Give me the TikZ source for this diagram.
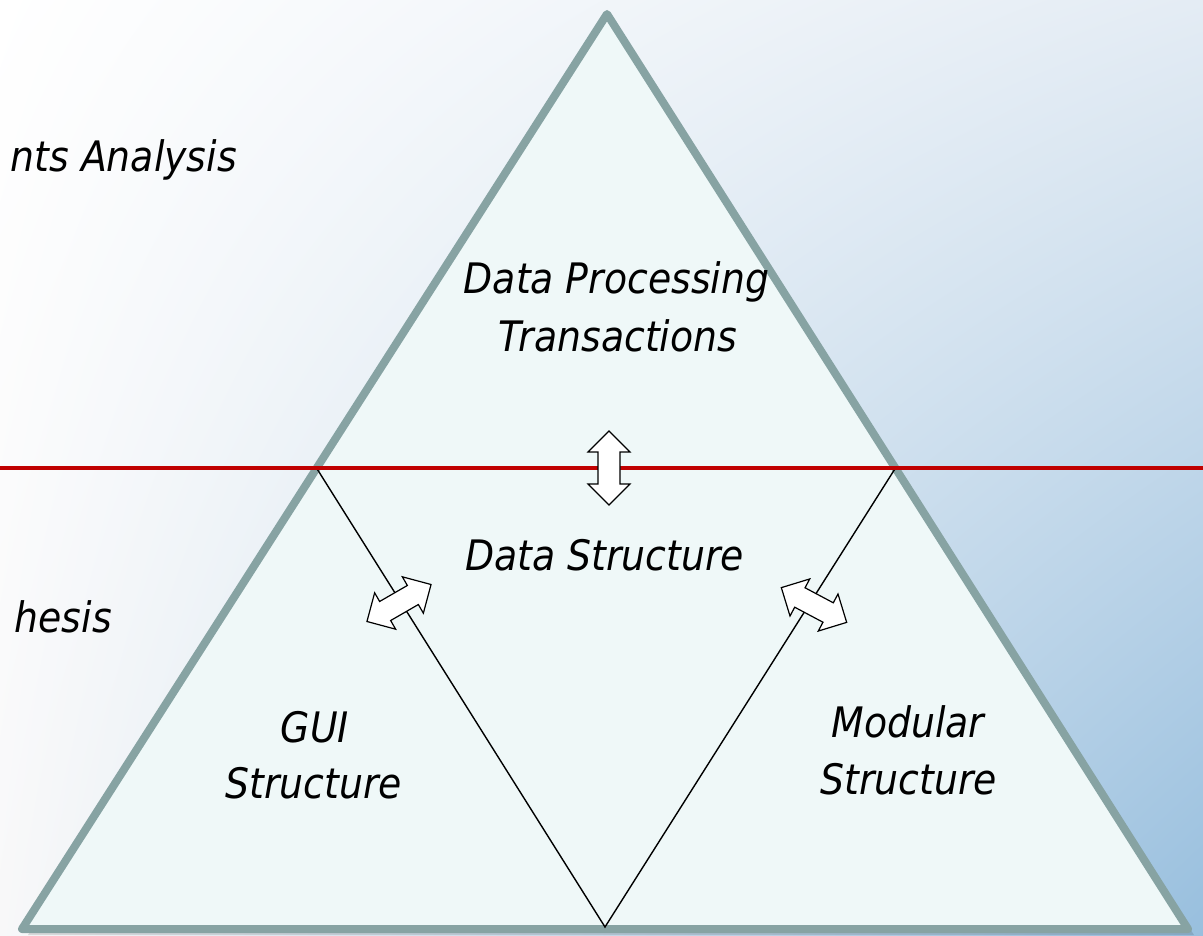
\documentclass[tikz,border=0pt]{standalone}
\usepackage{fontspec}
\usetikzlibrary{shadings}
\setmainfont{Liberation Sans}
\newfontfamily\lblfont{DejaVu Sans Condensed}
\begin{document}
\begin{tikzpicture}[x=1pt,y=-1pt,
  lbl/.style={font=\lblfont\itshape\fontsize{42}{57}\selectfont, text=black, inner sep=0pt, anchor=base},
  tri/.style={draw=triborder, line width=8pt, line join=round, fill=trifill},
  divider/.style={draw=black, line width=1.4pt},
  redline/.style={draw=redc, line width=3.8pt},
  blockarrow/.style={draw=black, line width=1.2pt, fill=white, line join=miter},
  dblarrow/.pic={\path[blockarrow] (-37,0) -- (-16,-21) -- (-16,-11) -- (16,-11) -- (16,-21) -- (37,0) -- (16,21) -- (16,11) -- (-16,11) -- (-16,21) -- cycle;}
]
\definecolor{triborder}{HTML}{87A3A3}
\definecolor{trifill}{HTML}{EFF8F8}
\definecolor{redc}{HTML}{C00000}
\definecolor{bgUR}{HTML}{E4ECF4}
\definecolor{bgLL}{HTML}{F8F8F9}
\definecolor{bgLR}{HTML}{98BFDE}
\useasboundingbox (0,0) rectangle (1203,936);
\clip (0,0) rectangle (1203,936);
\shade[upper left=white, upper right=bgUR, lower left=bgLL, lower right=bgLR] (0,0) rectangle (1203,936);

% triangle corners
\coordinate (T) at (607,14);
\coordinate (L) at (22,929);
\coordinate (R) at (1188,929);
\coordinate (ML) at (316.5,468);
\coordinate (MR) at (895.5,468);
\coordinate (B) at (605,927);
\coordinate (RL) at (0,468);
\coordinate (RR) at (1203,468);

% shadow
\fill[black, opacity=0.12] ([shift={(6,6)}]T) -- ([shift={(6,6)}]R) -- ([shift={(6,6)}]L) -- cycle;
\path[tri] (T) -- (R) -- (L) -- cycle;

\draw[divider] (ML) -- (B) -- (MR);
\draw[redline] (RL) -- (RR);

\pic[rotate=90] at (609,468) {dblarrow};
\pic[rotate=30] at (399,603) {dblarrow};
\pic[rotate=-28] at (814,605) {dblarrow};

\node[lbl] (dp) at (616.5,294) {Data Processing};
\node[lbl] (tr) at (618,351) {Transactions};
\node[lbl] (ds) at (604.5,570) {Data Structure};
\node[lbl] (gui) at (315,742) {GUI};
\node[lbl] (gs) at (313.5,798) {Structure};
\node[lbl] (mod) at (908,737) {Modular};
\node[lbl] (ms) at (908.5,794) {Structure};
\node[lbl, anchor=base east] (ra) at (237,172) {nts Analysis};
\node[lbl, anchor=base east] (sy) at (112,632) {hesis};
\end{tikzpicture}
\end{document}
